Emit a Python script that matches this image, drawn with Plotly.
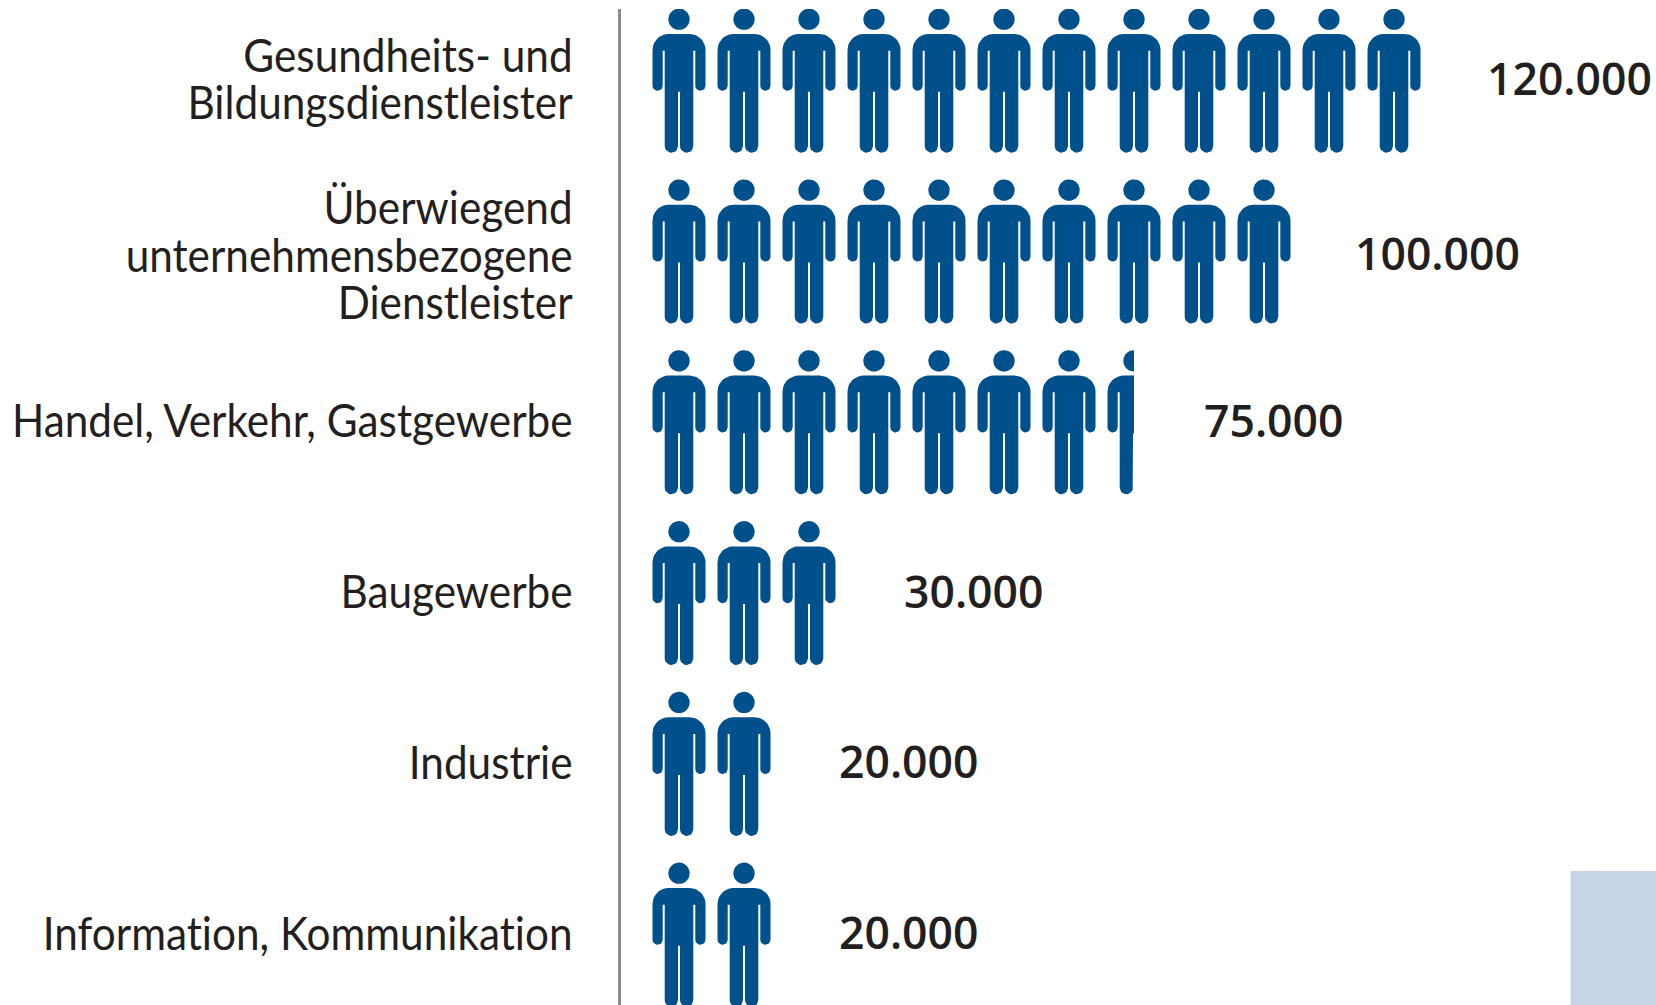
import math
import plotly.graph_objects as go

categories = ["Gesundheits- und<br>Bildungsdienstleister",
              "Überwiegend<br>unternehmensbezogene<br>Dienstleister",
              "Handel, Verkehr, Gastgewerbe",
              "Baugewerbe",
              "Industrie",
              "Information, Kommunikation"]
values = [120000, 100000, 75000, 30000, 20000, 20000]
value_labels = ["120.000", "100.000", "75.000", "30.000", "20.000", "20.000"]
label_shift = [58.5, 56.5, 67.5, 60.5, 60.5, 60.5]
label_lift = [3.5, -1, 3, 3, 3, 3.5]
UNIT = 10000

BLUE = "#00508C"
W, H = 1656, 1005
L, T = 621, 9
PX_X = 65.0          # px per person
PX_Y = 170.8         # px per row
X0 = 646.5
Y0 = 80.7


def arc(cx, cy, r, a0, a1, n=10):
    return [(cx + r * math.cos(math.radians(a0 + (a1 - a0) * i / n)),
             cy + r * math.sin(math.radians(a0 + (a1 - a0) * i / n))) for i in range(n + 1)]


def body_outline():
    top, sh, arm_in, tor, gap_top, arm_end = -46.7, 26.5, 16.3, 14.3, -30.0, 5.0
    leg_r = (tor - 1.0) / 2
    leg_end = 72.0 - leg_r
    crotch = 11.0
    p = []
    p += arc(-sh + 16, top + 16, 16, 180, 270)
    p += arc(sh - 16, top + 16, 16, 270, 360)
    p += arc(sh - 5.1, arm_end, 5.1, 0, 180)
    p += [(arm_in, gap_top), (tor, gap_top)]
    p += arc(1.0 + leg_r, leg_end, leg_r, 0, 180)
    p += [(1.0, crotch), (-1.0, crotch)]
    p += arc(-1.0 - leg_r, leg_end, leg_r, 0, 180)
    p += [(-tor, gap_top), (-arm_in, gap_top)]
    p += arc(-sh + 5.1, arm_end, 5.1, 0, 180)
    return p


def head_outline():
    return arc(0, -61.4, 10.7, 0, 360, 40)


def clip_right(poly, xmax):
    out = []
    n = len(poly)
    for i in range(n):
        a, b = poly[i], poly[(i + 1) % n]
        ina, inb = a[0] <= xmax, b[0] <= xmax
        if ina:
            out.append(a)
        if ina != inb:
            t = (xmax - a[0]) / (b[0] - a[0])
            out.append((xmax, a[1] + t * (b[1] - a[1])))
    return out


xs, ys = [], []
for row, v in enumerate(values):
    n = math.ceil(v / UNIT)
    for i in range(n):
        cx = (i + 0.5) * UNIT
        for shape in (body_outline(), head_outline()):
            pts = [(cx + px / PX_X * UNIT, row + py / PX_Y) for px, py in shape]
            if cx + 26.5 / PX_X * UNIT > v:
                pts = clip_right(pts, v)
            if pts:
                xs += [p[0] for p in pts] + [pts[0][0], None]
                ys += [p[1] for p in pts] + [pts[0][1], None]

fig = go.Figure(go.Scatter(x=xs, y=ys, mode="lines", fill="toself", fillcolor=BLUE,
                           line=dict(width=0, color=BLUE), hoverinfo="skip",
                           cliponaxis=False, showlegend=False))

for row, (v, t, s, u) in enumerate(zip(values, value_labels, label_shift, label_lift)):
    fig.add_annotation(x=v, y=row, text=t, showarrow=False, xanchor="left", yanchor="middle",
                       xshift=s, yshift=u, font=dict(family="Open Sans", size=44.5, weight=600, color="#231F20"))

fig.add_shape(type="rect", xref="paper", yref="paper",
              x0=(1570.7 - L) / (W - L), x1=1, y0=0, y1=(H - 871) / (H - T),
              fillcolor="#C5D5E5", line_width=0, layer="below")

fig.update_layout(
    width=W, height=H, margin=dict(l=L, r=0, t=T, b=0, pad=0), autosize=False,
    paper_bgcolor="white", plot_bgcolor="white",
    xaxis=dict(range=[(L - X0) / PX_X * UNIT, (W - X0) / PX_X * UNIT], visible=False, fixedrange=True),
    yaxis=dict(range=[(H - Y0) / PX_Y, (T - Y0) / PX_Y], tickmode="array",
               tickvals=list(range(len(categories))), ticktext=categories,
               showgrid=False, zeroline=False, showline=True, linecolor="#8C8C8C", linewidth=3,
               ticks="", ticklabelstandoff=38,
               tickfont=dict(family="Lato", size=37, color="#231F20")),
)
# The source face is a tall condensed sans: enlarge and narrow the category labels, keeping their line pitch.
post = """
document.body.style.margin='0';document.body.style.overflow='hidden';
document.querySelectorAll('.ytick text').forEach(function(t){
  t.style.fontSize='46px';t.style.fontVariantLigatures='none';
  var lines=t.querySelectorAll('tspan.line');
  lines.forEach(function(l){
    var d=l.getAttribute('dy')||'';
    if(d.indexOf('em')>0){l.setAttribute('dy',(parseFloat(d)/1.3*47.5)+'px');}
  });
  var x=parseFloat(t.getAttribute('x'))||0;
  var tr=t.getAttribute('transform')||'';
  var dy=lines.length>2?8:2;
  t.setAttribute('transform',tr+' translate('+x+','+dy+') scale(0.92,1) translate('+(-x)+',0)');
});
"""
fig.write_html("out.html", config={"displayModeBar": False}, post_script=post)
